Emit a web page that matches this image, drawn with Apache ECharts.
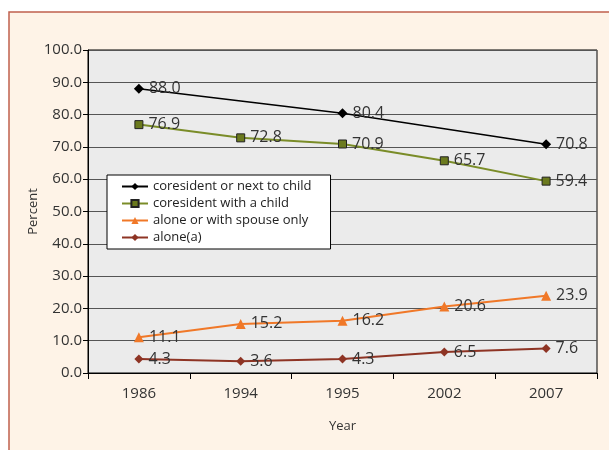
<!DOCTYPE html>
<html>
<head>
<meta charset="utf-8">
<script src="https://cdn.jsdelivr.net/npm/echarts@6/dist/echarts.min.js"></script>
<style>
  html, body { margin: 0; padding: 0; background: #fff; }
  #chart { width: 609px; height: 450px; }
</style>
</head>
<body>
<div id="chart"></div>
<script>
var years = ['1986', '1994', '1995', '2002', '2007'];
// only surveyed in 1986, 1995 and 2007
var nextToChild = [88.0, null, 80.4, null, 70.8];
var withChild = [76.9, 72.8, 70.9, 65.7, 59.4];
var withSpouse = [11.1, 15.2, 16.2, 20.6, 23.9];
var aloneA = [4.3, 3.6, 4.3, 6.5, 7.6];
var yTicks = [0, 10, 20, 30, 40, 50, 60, 70, 80, 90, 100];

var font = '"Open Sans", Lato, sans-serif';

function labelCfg() {
    return {
        show: true,
        position: 'right',
        distance: 5,
        color: '#333',
        fontSize: 16,
        fontFamily: font,
        formatter: function (p) { return p.value == null ? '' : Number(p.value).toFixed(1); }
    };
}

var chart = echarts.init(document.getElementById('chart'));
chart.setOption({
    animation: false,
    textStyle: { fontFamily: font },
    graphic: [{
        type: 'rect',
        z: -10,
        shape: { x: 9, y: 12, width: 620, height: 460 },
        style: { fill: '#fef3e7', stroke: '#c0604d', lineWidth: 1.5 }
    }],
    grid: {
        left: 88, right: 12, top: 50, bottom: 77,
        show: true,
        backgroundColor: '#ebebeb',
        borderColor: '#000',
        borderWidth: 1
    },
    legend: {
        orient: 'vertical',
        left: 107, top: 175,
        backgroundColor: '#fff',
        borderColor: '#000',
        borderWidth: 1,
        padding: [5, 19, 5, 14],
        itemWidth: 26,
        itemHeight: 9,
        itemGap: 4,
        textStyle: { fontSize: 13, color: '#222', fontFamily: font },
        data: ['coresident or next to child', 'coresident with a child', 'alone or with spouse only', 'alone(a)']
    },
    xAxis: {
        type: 'category',
        data: years,
        boundaryGap: true,
        name: 'Year',
        nameLocation: 'middle',
        nameGap: 47,
        nameTextStyle: { fontSize: 13, color: '#333' },
        axisLine: { lineStyle: { color: '#000' } },
        axisTick: { show: true, length: 6, lineStyle: { color: '#000' } },
        axisLabel: { fontSize: 15, color: '#333', margin: 13 }
    },
    yAxis: {
        type: 'value',
        min: yTicks[0],
        max: yTicks[yTicks.length - 1],
        interval: 10,
        name: 'Percent',
        nameLocation: 'middle',
        nameGap: 48,
        nameMoveOverlap: false,
        nameTextStyle: { fontSize: 13, color: '#333' },
        axisLine: { show: true, lineStyle: { color: '#000' } },
        axisTick: { show: true, length: 5, lineStyle: { color: '#000' } },
        axisLabel: { fontSize: 15, color: '#333', margin: 6, formatter: function (v) { return v.toFixed(1); } },
        splitLine: { show: true, lineStyle: { color: '#555', width: 1 } }
    },
    series: [{
        name: 'coresident or next to child',
        type: 'line',
        data: nextToChild,
        connectNulls: true,
        symbol: 'diamond',
        symbolSize: 10,
        itemStyle: { color: '#000' },
        lineStyle: { color: '#000', width: 1.5 },
        label: labelCfg()
    }, {
        name: 'coresident with a child',
        type: 'line',
        data: withChild,
        symbol: 'rect',
        symbolSize: 8,
        itemStyle: { color: '#6b7a1e', borderColor: '#222', borderWidth: 1 },
        lineStyle: { color: '#7a8c28', width: 2 },
        label: labelCfg()
    }, {
        name: 'alone or with spouse only',
        type: 'line',
        data: withSpouse,
        symbol: 'triangle',
        symbolSize: 10,
        itemStyle: { color: '#f07828' },
        lineStyle: { color: '#f07828', width: 2 },
        label: labelCfg()
    }, {
        name: 'alone(a)',
        type: 'line',
        data: aloneA,
        symbol: 'diamond',
        symbolSize: 9,
        itemStyle: { color: '#8e3424' },
        lineStyle: { color: '#8e3424', width: 2 },
        label: labelCfg()
    }]
});
</script>
</body>
</html>
